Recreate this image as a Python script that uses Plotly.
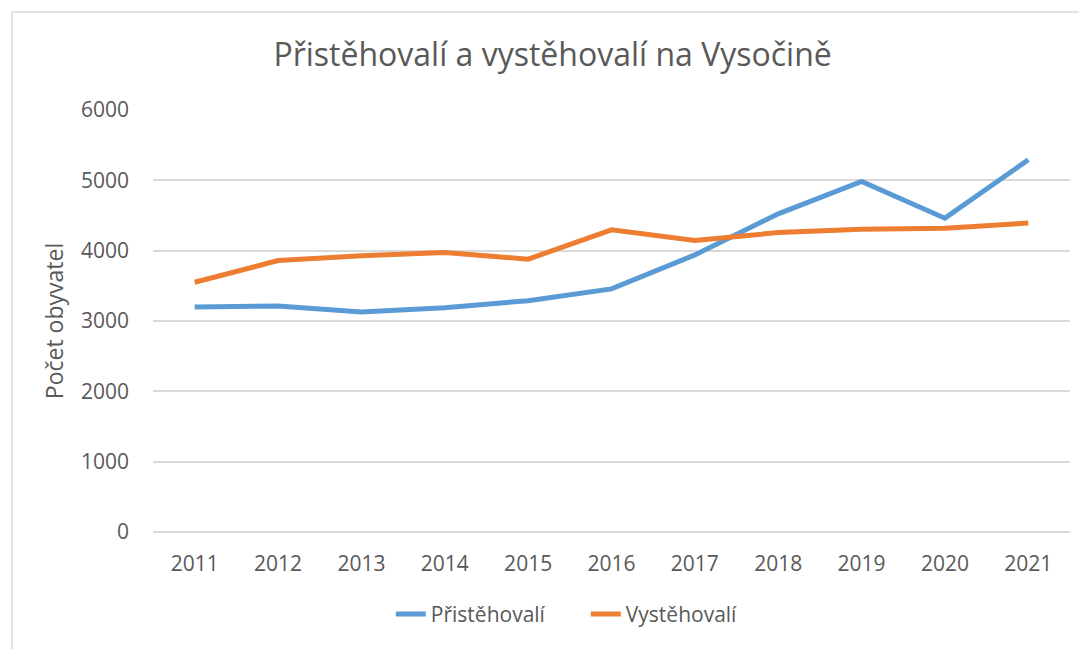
"""Přistěhovalí a vystěhovalí na Vysočině."""

import plotly.graph_objects as go

roky = ["2011", "2012", "2013", "2014", "2015", "2016", "2017", "2018", "2019", "2020", "2021"]
pristehovali = [3199, 3214, 3128, 3190, 3289, 3456, 3940, 4524, 4985, 4462, 5293]
vystehovali = [3551, 3859, 3926, 3973, 3879, 4296, 4144, 4258, 4306, 4320, 4392]

SEDA = "#595959"
FONT = "Open Sans, sans-serif"

fig = go.Figure()
fig.add_trace(go.Scatter(
    x=roky, y=pristehovali, name="Přistěhovalí", mode="lines",
    line=dict(color="#5b9bd5", width=5),
))
fig.add_trace(go.Scatter(
    x=roky, y=vystehovali, name="Vystěhovalí", mode="lines",
    line=dict(color="#ed7d31", width=5),
))

# stránka má okraj 8 px, proto jsou okraje posunuté
fig.update_layout(
    width=1087, height=649,
    margin=dict(l=145, r=25, t=102, b=125),
    paper_bgcolor="white", plot_bgcolor="white",
    font=dict(family=FONT, size=21, color=SEDA),
    title=dict(
        text="Přistěhovalí a vystěhovalí na Vysočině",
        font=dict(size=32, color=SEDA),
        x=0.501, xref="container", xanchor="center",
        y=0.928, yref="container", yanchor="middle",
    ),
    legend=dict(
        orientation="h", x=0.472, xanchor="center", y=-0.195, yanchor="middle",
        font=dict(size=21, color=SEDA), entrywidth=150,
    ),
    xaxis=dict(
        type="category", range=[-0.5, 10.5], showgrid=False, showline=False,
        zeroline=False, ticks="", ticklabelstandoff=17,
    ),
    yaxis=dict(
        range=[0, 6000], dtick=1000, showgrid=True, gridcolor="#d9d9d9", gridwidth=1.5,
        zeroline=True, zerolinecolor="#d9d9d9", zerolinewidth=1.5, showline=False,
        ticks="", ticklabelstandoff=23,
        title=dict(text="Počet obyvatel", font=dict(size=23, color=SEDA), standoff=10),
    ),
)

# rámeček grafu (levý a horní okraj)
fig.add_shape(
    type="rect", xref="paper", yref="paper",
    x0=-0.1538, x1=1.3, y0=-0.5, y1=1.2325,
    line=dict(color="#d9d9d9", width=1.5), layer="below",
)

fig.write_html("out.html")
